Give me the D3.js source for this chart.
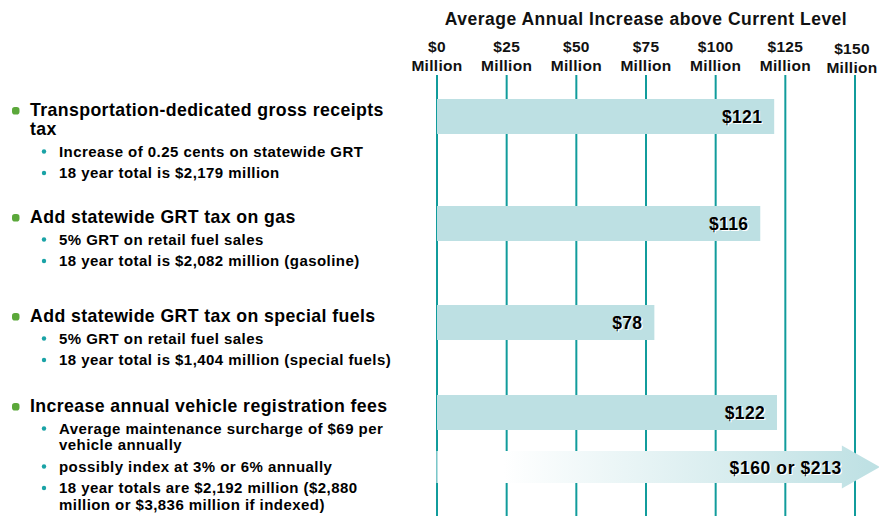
<!DOCTYPE html>
<html lang="en">
<head>
  <meta charset="UTF-8">
  <title>Average Annual Increase above Current Level</title>
  <style>
    body { margin: 0; background: #fff; }
    svg { display: block; font-family: "Liberation Sans", Arial, sans-serif; font-weight: bold; }
  </style>
</head>
<body>
<div id="chart"></div>

<script src="https://cdn.jsdelivr.net/npm/d3@7"></script>
<script>
  // data
  const categories = ['gross receipts', 'gas', 'special fuels', 'registration'];
  const values = [121, 116, 78, 122];
  const valueLabels = ['$121', '$116', '$78', '$122'];
  const indexedValues = [160, 213];
  const indexedLabel = '$160 or $213';
  const ticks = [0, 25, 50, 75, 100, 125, 150];
  const tickLabels = ['$0', '$25', '$50', '$75', '$100', '$125', '$150'];
  const headings = [
    ['Transportation-dedicated gross receipts', 'tax'],
    ['Add statewide GRT tax on gas'],
    ['Add statewide GRT tax on special fuels'],
    ['Increase annual vehicle registration fees']
  ];
  const details = [
    [['Increase of 0.25 cents on statewide GRT'], ['18 year total is $2,179 million']],
    [['5% GRT on retail fuel sales'], ['18 year total is $2,082 million (gasoline)']],
    [['5% GRT on retail fuel sales'], ['18 year total is $1,404 million (special fuels)']],
    [['Average maintenance surcharge of $69 per', 'vehicle annually'],
     ['possibly index at 3% or 6% annually'],
     ['18 year totals are $2,192 million ($2,880', 'million or $3,836 million if indexed)']]
  ];

  const width = 879, height = 516;

  const svg = d3.select('#chart')
    .append('svg')
    .attr('width', width)
    .attr('height', height);

  const x = d3.scaleLinear()
    .domain([0, 150])
    .range([437, 855]);

  // baseline of each group's heading
  const rowY = d3.scaleOrdinal()
    .domain(categories)
    .range([116, 223, 322, 412]);

  const barH = 35;
  const teal = '#119c9c';
  const barFill = '#bde0e3';

  // gradient for the arrow
  const grad = svg.append('defs').append('linearGradient')
    .attr('id', 'arrowGrad')
    .attr('x1', '0%').attr('x2', '100%');
  grad.append('stop').attr('offset', '0%').attr('stop-color', '#ffffff');
  grad.append('stop').attr('offset', '15%').attr('stop-color', '#ffffff');
  grad.append('stop').attr('offset', '100%').attr('stop-color', barFill);

  // title
  svg.append('text')
    .attr('x', 646)
    .attr('y', 25)
    .attr('text-anchor', 'middle')
    .style('font-size', '17.5px')
    .style('letter-spacing', '0.5px')
    .attr('fill', '#111')
    .text('Average Annual Increase above Current Level');

  // tick labels (last one nudged so it stays inside the frame)
  const tickG = svg.append('g')
    .selectAll('text')
    .data(ticks)
    .enter()
    .append('text')
    .attr('text-anchor', 'middle')
    .attr('fill', '#111')
    .style('font-size', '15.5px')
    .style('letter-spacing', '0.3px')
    .attr('transform', (d, i) => i === ticks.length - 1
      ? 'translate(' + (x(d) - 3) + ',2)'
      : 'translate(' + x(d) + ',0)');
  tickG.append('tspan').attr('x', 0).attr('y', 52).text((d, i) => tickLabels[i]);
  tickG.append('tspan').attr('x', 0).attr('y', 71).text('Million');

  // grid lines
  svg.append('g')
    .selectAll('line')
    .data(ticks)
    .enter()
    .append('line')
    .attr('x1', d => x(d))
    .attr('x2', d => x(d))
    .attr('y1', 75)
    .attr('y2', height)
    .attr('stroke', teal)
    .attr('stroke-width', 2);

  // bars
  svg.append('g')
    .selectAll('rect')
    .data(values)
    .enter()
    .append('rect')
    .attr('x', x(0))
    .attr('y', (d, i) => rowY(categories[i]) - 17)
    .attr('width', d => x(d) - x(0))
    .attr('height', barH)
    .attr('fill', barFill);

  function shadowLabel(g, tx, ty, label, spacing) {
    [['#fff', 1.2], ['#000', 0]].forEach(function (s) {
      g.append('text')
        .attr('x', tx + s[1]).attr('y', ty + s[1])
        .attr('text-anchor', 'end')
        .attr('fill', s[0])
        .style('font-size', '17.5px')
        .style('letter-spacing', spacing)
        .text(label);
    });
  }

  const labelG = svg.append('g');
  values.forEach(function (d, i) {
    shadowLabel(labelG, x(d) - 12, rowY(categories[i]) + 6.5, valueLabels[i], '0.3px');
  });

  // arrow for indexed registration fees
  const ay = rowY(categories[3]) + 55;
  const ax0 = x(0), ax1 = x(indexedValues[0]) - 3, head = 38;
  svg.append('path')
    .attr('d', 'M' + ax0 + ',' + (ay - 16) +
      'H' + (ax1 - head) + 'V' + (ay - 21.5) +
      'L' + ax1 + ',' + ay +
      'L' + (ax1 - head) + ',' + (ay + 21.5) +
      'V' + (ay + 16) + 'H' + ax0 + 'Z')
    .attr('fill', 'url(#arrowGrad)');
  svg.append('line')
    .attr('x1', ax0).attr('x2', ax0)
    .attr('y1', ay - 16).attr('y2', ay + 16)
    .attr('stroke', '#9fd6d8')
    .attr('stroke-width', 1.5);
  shadowLabel(svg, ax1 - head, ay + 7, indexedLabel, '0.6px');

  // left-hand text
  const textG = svg.append('g');
  headings.forEach(function (lines, i) {
    let y = rowY(categories[i]);
    textG.append('rect')
      .attr('x', 12).attr('y', y - 9)
      .attr('width', 7.5).attr('height', 7.5)
      .attr('rx', 2.8)
      .attr('fill', '#5ba83a');
    lines.forEach(function (line, j) {
      textG.append('text')
        .attr('x', 30).attr('y', y + j * 19)
        .attr('fill', '#000')
        .style('font-size', '17.7px')
        .style('letter-spacing', '0.4px')
        .text(line);
    });
    y += (lines.length - 1) * 19 + 21.5;
    details[i].forEach(function (sub) {
      textG.append('circle')
        .attr('cx', 44).attr('cy', y - 5)
        .attr('r', 2.2)
        .attr('fill', '#1aa3a6');
      sub.forEach(function (line, k) {
        textG.append('text')
          .attr('x', 59).attr('y', y + k * 16.5)
          .attr('fill', '#000')
          .style('font-size', '15px')
          .style('letter-spacing', '0.45px')
          .text(line);
      });
      y += (sub.length - 1) * 16.5 + 21.5;
    });
  });
</script>
</body>
</html>
